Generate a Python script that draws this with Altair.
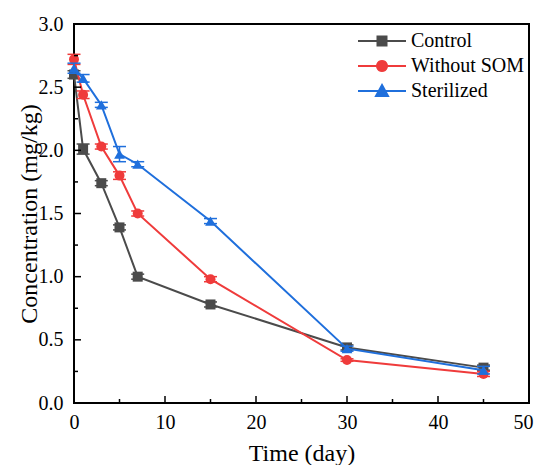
import math
import altair as alt
import pandas as pd

days = [0, 1, 3, 5, 7, 15, 30, 45]
series_names = ["Control", "Without SOM", "Sterilized"]
control = [2.60, 2.01, 1.74, 1.39, 1.00, 0.78, 0.44, 0.28]
control_err = [0.03, 0.04, 0.02, 0.02, 0.02, 0.02, 0.02, 0.02]
without_som = [2.72, 2.44, 2.03, 1.80, 1.50, 0.98, 0.34, 0.23]
without_som_err = [0.04, 0.03, 0.02, 0.03, 0.02, 0.02, 0.01, 0.02]
sterilized = [2.65, 2.57, 2.36, 1.97, 1.89, 1.44, 0.43, 0.26]
sterilized_err = [0.04, 0.03, 0.02, 0.06, 0.02, 0.02, 0.02, 0.03]
colors = ["#4b4b4b", "#ef3b3b", "#1f6fdc"]
shapes = ["square", "circle", "triangle-up"]
x_major = [0, 10, 20, 30, 40, 50]
x_minor = [5, 15, 25, 35, 45]
y_major = [0.0, 0.5, 1.0, 1.5, 2.0, 2.5, 3.0]
y_minor = [0.25, 0.75, 1.25, 1.75, 2.25, 2.75]

# legend symbol shapes: a line with the marker in its middle
circ = "".join(("M" if i == 0 else "L") + f"{0.42*math.cos(2*math.pi*i/20):.3f},{0.42*math.sin(2*math.pi*i/20):.3f}"
               for i in range(20)) + "Z"
legend_paths = [
    "M-2,0L2,0M-0.375,-0.375L0.375,-0.375L0.375,0.375L-0.375,0.375Z",
    "M-2,0L2,0" + circ,
    "M-2,0L2,0M0,-0.5L0.5,0.42L-0.5,0.42Z",
]

rows = []
for name, vals, errs in zip(series_names,
                            [control, without_som, sterilized],
                            [control_err, without_som_err, sterilized_err]):
    for d, v, e in zip(days, vals, errs):
        rows.append({"series": name, "day": d, "conc": v, "lo": v - e, "hi": v + e})
df = pd.DataFrame(rows)

W, H = 455, 379
FONT = "Liberation Serif, DejaVu Serif, serif"

xs = alt.Scale(domain=[0, 50], nice=False, zero=False)
ys = alt.Scale(domain=[0, 3], nice=False, zero=False)
x_axis = alt.Axis(title="Time (day)", values=x_major, format="d", ticks=False, grid=False,
                  domain=False, labelFont=FONT, labelFontSize=20, labelColor="black",
                  labelPadding=9, labelFlush=False,
                  labelOffset={"condition": {"test": "datum.value == 50", "value": -6}, "value": 0},
                  titleFont=FONT, titleFontSize=24, titleFontWeight="normal",
                  titleColor="black", titleX=W / 2, titleY=50, titleAlign="center",
                  titleBaseline="middle")
y_axis = alt.Axis(title="Concentration (mg/kg)", values=y_major, format=".1f", ticks=False,
                  grid=False, domain=False, labelFont=FONT, labelFontSize=20,
                  labelColor="black", labelPadding=11, titleFont=FONT, titleFontSize=24,
                  titleFontWeight="normal", titleColor="black", titleX=-45, titleY=H / 2,
                  titleAlign="center", titleBaseline="middle", titleAngle=270)

X = alt.X("day:Q", scale=xs, axis=x_axis)
Y = alt.Y("conc:Q", scale=ys, axis=y_axis)
Ylo = alt.Y("lo:Q", scale=ys, axis=y_axis)
Yhi = alt.Y("hi:Q", scale=ys, axis=y_axis)

base = alt.Chart(df)
layers = []

for name, shp, col in zip(series_names, shapes, colors):
    sub = base.transform_filter(alt.datum.series == name)
    layers.append(sub.mark_rule(strokeWidth=1.5, color=col).encode(x=X, y=Ylo, y2="hi:Q"))
    layers.append(sub.mark_tick(orient="horizontal", size=13, thickness=1.5, opacity=1,
                                color=col).encode(x=X, y=Ylo))
    layers.append(sub.mark_tick(orient="horizontal", size=13, thickness=1.5, opacity=1,
                                color=col).encode(x=X, y=Yhi))
    layers.append(sub.mark_line(strokeWidth=2, color=col).encode(x=X, y=Y))
    size = 115 if shp == "triangle-up" else 100
    layers.append(sub.mark_point(shape=shp, filled=True, size=size, opacity=1,
                                 color=col).encode(x=X, y=Y))

# legend layer (no drawn marks; legend only)
leg_scale_kw = dict(domain=series_names, range=colors)
legend_cfg = alt.Legend(title=None, orient="none", legendX=295, legendY=4,
                        labelFont=FONT, labelFontSize=20, labelColor="black",
                        symbolSize=576, symbolStrokeWidth=2, symbolOpacity=1,
                        labelOffset=16, rowPadding=2, padding=0)
layers.append(base.transform_filter("false").mark_point(filled=True, opacity=1).encode(
    x=X, y=Y,
    shape=alt.Shape("series:N", scale=alt.Scale(domain=series_names, range=legend_paths),
                    legend=legend_cfg),
    fill=alt.Fill("series:N", scale=alt.Scale(**leg_scale_kw), legend=legend_cfg),
    stroke=alt.Stroke("series:N", scale=alt.Scale(**leg_scale_kw), legend=legend_cfg),
))

# inward ticks
xt_major = pd.DataFrame({"day": x_major})
xt_minor = pd.DataFrame({"day": x_minor})
yt_major = pd.DataFrame({"conc": y_major})
yt_minor = pd.DataFrame({"conc": y_minor})
layers.append(alt.Chart(xt_major).mark_rule(color="black", strokeWidth=1.5).encode(
    x=X, y=alt.value(H), y2=alt.value(H - 7)))
layers.append(alt.Chart(xt_minor).mark_rule(color="black", strokeWidth=1.5).encode(
    x=X, y=alt.value(H), y2=alt.value(H - 4)))
layers.append(alt.Chart(yt_major).mark_rule(color="black", strokeWidth=1.5).encode(
    y=Y, x=alt.value(0), x2=alt.value(7)))
layers.append(alt.Chart(yt_minor).mark_rule(color="black", strokeWidth=1.5).encode(
    y=Y, x=alt.value(0), x2=alt.value(4)))

chart = alt.layer(*layers).properties(
    width=W, height=H,
    autosize=alt.AutoSizeParams(type="none"),
    padding={"left": 66, "top": 16, "right": 5, "bottom": 62},
).configure(background="white", font=FONT).configure_view(stroke="black", strokeWidth=2)

chart.save("out.html", embed_options={"renderer": "svg", "actions": False})
